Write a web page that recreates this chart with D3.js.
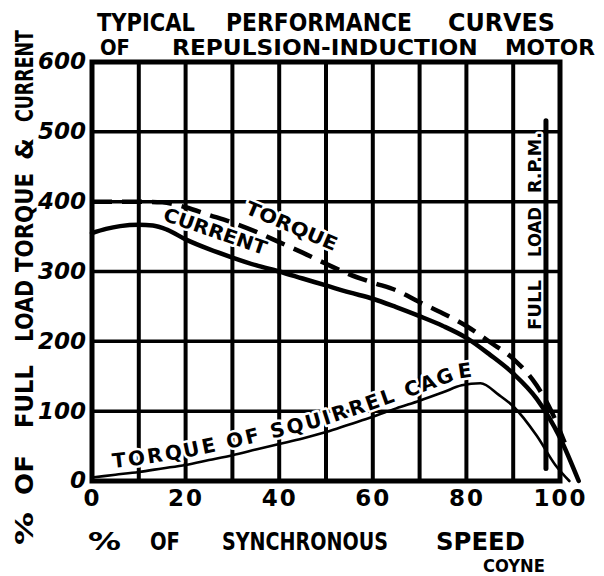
<!DOCTYPE html>
<html>
<head>
<meta charset="utf-8">
<script src="https://cdn.jsdelivr.net/npm/d3@7"></script>
<style>
  html, body { margin: 0; padding: 0; background: #fff; }
  svg { display: block; }
  text { font-family: "DejaVu Sans", "Liberation Sans", sans-serif; font-weight: bold; fill: #000; }
</style>
</head>
<body>
<svg id="chart" width="604" height="576"></svg>
<script>
// ---- data (percent of synchronous speed vs percent of full-load value) ----
const gridSpeeds = [10, 20, 30, 40, 50, 60, 70, 80, 90];
const gridValues = [100, 200, 300, 400, 500];
const speedTicks = [0, 20, 40, 60, 80, 100];
const valueTicks = [0, 100, 200, 300, 400, 500, 600];

const torqueSpeed = [0, 5, 10, 15, 20, 25, 30, 35, 40, 45, 50, 55, 60, 65, 70, 75, 80, 85, 90, 95, 98, 101];
const torqueValue = [400, 400, 400, 399, 392, 381, 370, 357, 342, 327, 311, 296, 284, 273, 256, 240, 222, 199, 175, 137, 102, 55];

const currentSpeed = [0, 3, 6, 10, 13, 16, 20, 25, 30, 35, 40, 45, 50, 55, 60, 65, 70, 75, 80, 85, 90, 95, 100, 104];
const currentValue = [355, 361, 365, 367, 366, 360, 346, 332, 320, 309, 300, 290, 280, 270, 261, 249, 236, 222, 205, 181, 154, 118, 62, 0];

const cageSpeed = [0, 5, 10, 15, 20, 25, 30, 35, 40, 45, 50, 55, 60, 65, 70, 75, 79, 83, 87, 90, 95, 99, 102];
const cageValue = [5, 9, 13, 18, 23, 30, 37, 45, 53, 61, 70, 81, 92, 104, 115, 127, 137, 140, 123, 107, 65, 23, 0];

const fullLoadSpeed = 97;
const fullLoadSpan = [18, 516];

const titleLine1 = ["TYPICAL", "PERFORMANCE", "CURVES"];
const titleLine2 = ["OF", "REPULSION-INDUCTION", "MOTOR"];
const xTitleWords = ["%", "OF", "SYNCHRONOUS", "SPEED"];
const yTitleWords = ["%", "OF", "FULL", "LOAD", "TORQUE", "&", "CURRENT"];
const fullLoadWords = ["FULL", "LOAD", "R.P.M."];
const torqueLabel = "TORQUE";
const currentLabel = "CURRENT";
const cageLabel = "TORQUE OF SQUIRREL CAGE";
const signature = "COYNE";

// ---- scales ----
const svg = d3.select("#chart");
const x = d3.scaleLinear().domain([0, 100]).range([92, 560]);
const y = d3.scaleLinear().domain([0, 600]).range([481, 62]);

const zip = (xs, ys) => xs.map((s, i) => ({ s, v: ys[i] }));
const line = d3.line().x(d => x(d.s)).y(d => y(d.v)).curve(d3.curveMonotoneX);

// ---- grid ----
const grid = svg.append("g").attr("stroke", "#000").attr("stroke-linecap", "butt");
grid.selectAll("line.v").data(gridSpeeds).join("line")
  .attr("x1", d => x(d)).attr("x2", d => x(d))
  .attr("y1", y(600)).attr("y2", y(0))
  .attr("stroke-width", 4);
grid.selectAll("line.h").data(gridValues).join("line")
  .attr("x1", x(0)).attr("x2", x(100))
  .attr("y1", d => y(d)).attr("y2", d => y(d))
  .attr("stroke-width", 3.5);

// ---- lettering helper: squeezes a word horizontally so it fills its span ----
function fitted(parent, txt, size, len, place) {
  const t = parent.append("text").attr("font-size", size).text(txt);
  const natural = t.node().getComputedTextLength();
  t.attr("transform", `${place} scale(${len / natural},1)`);
  return t;
}
function word(parent, txt, x0, x1, base, size, vertical) {
  // vertical words read bottom-to-top: x0..x1 are screen y (top..bottom), base is the baseline's screen x
  const place = vertical ? `translate(${base},${x1}) rotate(-90)` : `translate(${x0},${base})`;
  return fitted(parent, txt, size, x1 - x0, place);
}

// ---- labels drawn over the grid with a white halo ----
const labels = svg.append("g")
  .attr("stroke", "#fff").attr("stroke-width", 5).attr("stroke-linejoin", "round")
  .attr("paint-order", "stroke");

// full load r.p.m. marker text
const flSpans = [[280, 330], [207, 257], [132, 193]];
fullLoadWords.forEach((w, i) => word(labels, w, flSpans[i][0], flSpans[i][1], 541, 18, true));

// torque / current labels
fitted(labels, torqueLabel, 19, 98, "translate(244,213) rotate(23)");
fitted(labels, currentLabel, 19, 108, "translate(162,220) rotate(19)");

// squirrel-cage label following its curve
const cageData = zip(cageSpeed, cageValue);
svg.append("defs").append("path")
  .attr("id", "cagePath")
  .attr("d", line(cageData));
labels.append("text")
  .attr("font-size", 20)
  .attr("letter-spacing", 2.5)
  .append("textPath")
  .attr("href", "#cagePath")
  .attr("startOffset", 22)
  .append("tspan").attr("dy", -7)
  .text(cageLabel);

// ---- border ----
svg.append("rect")
  .attr("x", x(0)).attr("y", y(600))
  .attr("width", x(100) - x(0)).attr("height", y(0) - y(600))
  .attr("fill", "none").attr("stroke", "#000").attr("stroke-width", 5);

// ---- full load r.p.m. line ----
svg.append("line")
  .attr("x1", x(fullLoadSpeed)).attr("x2", x(fullLoadSpeed))
  .attr("y1", y(fullLoadSpan[1])).attr("y2", y(fullLoadSpan[0]))
  .attr("stroke", "#000").attr("stroke-width", 5).attr("stroke-linecap", "round");

// ---- curves ----
svg.append("path").datum(zip(currentSpeed, currentValue))
  .attr("d", line).attr("fill", "none").attr("stroke", "#000")
  .attr("stroke-width", 4.5).attr("stroke-linecap", "round");
svg.append("path").datum(zip(torqueSpeed, torqueValue))
  .attr("d", line).attr("fill", "none").attr("stroke", "#000")
  .attr("stroke-width", 4.5).attr("stroke-dasharray", "20,10");
svg.append("path").datum(cageData)
  .attr("d", line).attr("fill", "none").attr("stroke", "#000")
  .attr("stroke-width", 2.6).attr("stroke-linecap", "round");

// ---- axes ----
const xAxis = svg.append("g")
  .attr("transform", `translate(0,${y(0)})`)
  .call(d3.axisBottom(x).tickValues(speedTicks).tickSize(0).tickFormat(d3.format("d")));
xAxis.select(".domain").remove();
xAxis.selectAll("text")
  .attr("y", 25).attr("dy", 0)
  .attr("font-size", 23).attr("letter-spacing", 2)
  .style("font-family", "\"DejaVu Sans\", sans-serif").style("font-weight", "bold").attr("fill", "#000");

const yAxis = svg.append("g")
  .attr("transform", `translate(${x(0)},0)`)
  .call(d3.axisLeft(y).tickValues(valueTicks).tickSize(0).tickFormat(d3.format("d")));
yAxis.select(".domain").remove();
yAxis.selectAll("text")
  .attr("x", -6).attr("dy", "0.3em")
  .attr("font-size", 23).attr("font-style", "italic")
  .style("font-family", "\"DejaVu Sans\", sans-serif").style("font-weight", "bold").attr("fill", "#000");

// ---- titles ----
const titles = svg.append("g");
const t1 = [[97, 195], [226, 412], [448, 555]];
titleLine1.forEach((w, i) => word(titles, w, t1[i][0], t1[i][1], 31, 24));
const t2 = [[100, 130], [172, 478], [505, 595]];
titleLine2.forEach((w, i) => word(titles, w, t2[i][0], t2[i][1], 55, 22));

const xt = [[88, 121], [150, 180], [222, 388], [436, 525]];
xTitleWords.forEach((w, i) => word(titles, w, xt[i][0], xt[i][1], 550, 24));

const yt = [[512, 545], [455, 495], [365, 428], [280, 342], [173, 272], [138, 160], [30, 122]];
yTitleWords.forEach((w, i) => word(titles, w, yt[i][0], yt[i][1], 33, 24, true));

word(titles, signature, 483, 545, 572, 17);
</script>
</body>
</html>
